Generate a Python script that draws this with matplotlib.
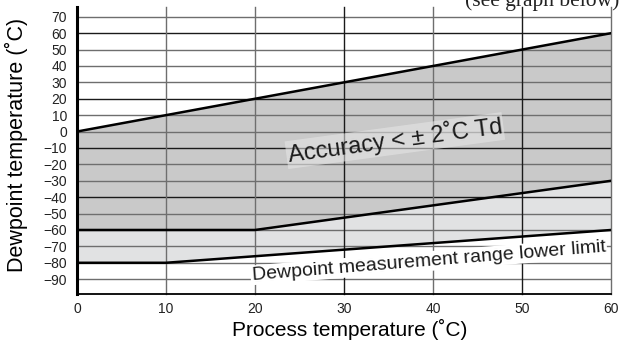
import matplotlib
import matplotlib.pyplot as plt
import numpy as np

matplotlib.use('Agg')

plt.rcParams['font.family'] = ['Liberation Sans', 'DejaVu Sans']

# Boundary lines (process temp, dewpoint)
upper_x = [0, 60]
upper_y = [0, 60]
middle_x = [0, 20, 60]
middle_y = [-60, -60, -30]
lower_x = [0, 10, 60]
lower_y = [-80, -80, -60]

x_ticks = [0, 10, 20, 30, 40, 50, 60]
y_ticks = [70, 60, 50, 40, 30, 20, 10, 0, -10, -20, -30, -40, -50, -60, -70, -80, -90]

# grid line shades
y_grid_dark = [60, 20, -10, -40]
x_grid_dark = [30, 50]

fig = plt.figure(figsize=(6.2, 3.45), dpi=100)
ax = fig.add_axes([0.124, 0.148, 0.862, 0.832])

# resample each boundary on a common x grid for filling
xx = np.array(sorted(set(upper_x + middle_x + lower_x)), dtype=float)
up = np.interp(xx, upper_x, upper_y)
mid = np.interp(xx, middle_x, middle_y)
low = np.interp(xx, lower_x, lower_y)

ax.fill_between(xx, mid, up, color='#c9c9c9', lw=0, zorder=1)
ax.fill_between(xx, low, mid, color='#e1e2e3', lw=0, zorder=1)

#grid lines
for v in y_ticks:
    c = '#1a1a1a' if v in y_grid_dark else '#6e6e6e'
    ax.plot([0, 60], [v, v], color=c, lw=1.0, zorder=2)
for v in x_ticks[1:]:
    c = '#1a1a1a' if v in x_grid_dark else '#6e6e6e'
    ax.plot([v, v], [-99, 76], color=c, lw=1.0, zorder=2, clip_on=False)

#boundaries
ax.plot(upper_x, upper_y, color='black', lw=1.8, zorder=3)
ax.plot(middle_x, middle_y, color='black', lw=1.8, zorder=3)
ax.plot(lower_x, lower_y, color='black', lw=1.8, zorder=3)

ax.set_xlim(0, 60)
ax.set_ylim(-99, 76)
ax.set_xticks(x_ticks)
ax.set_yticks(y_ticks)
ax.tick_params(axis='both', length=0, labelsize=10, colors='#222222')
ax.tick_params(axis='y', pad=7)
ax.tick_params(axis='x', pad=6)
for s in ['top', 'right']:
    ax.spines[s].set_visible(False)
ax.spines['left'].set_linewidth(2.2)
ax.spines['bottom'].set_linewidth(1.3)
ax.spines['left'].set_zorder(4)
ax.spines['bottom'].set_zorder(4)

ax.set_xlabel('Process temperature (˚C)', fontsize=15)
ax.set_ylabel('Dewpoint temperature (˚C)', fontsize=15.5)
ax.xaxis.set_label_coords(0.511, -0.088)
ax.yaxis.set_label_coords(-0.092, 0.52)

ax.text(35.7, -5.5, 'Accuracy < ± 2˚C Td', fontsize=17, rotation=7.7,
        ha='center', va='center', color='#1a1a1a', zorder=5,
        rotation_mode='anchor',
        bbox=dict(facecolor='#e8e8e8', edgecolor='none', alpha=0.55, pad=1))
ax.text(39.5, -79, 'Dewpoint measurement range lower limit', fontsize=14,
        rotation=4.6, ha='center', va='center', color='#1a1a1a', zorder=5,
        rotation_mode='anchor',
        bbox=dict(facecolor='white', edgecolor='none', pad=1))

fig.text(465 / 620, 1 - 6 / 345, '(see graph below)', fontsize=15.5,
         family='Liberation Serif', ha='left', va='baseline', color='#222222')

plt.savefig('out.png', dpi=100)
